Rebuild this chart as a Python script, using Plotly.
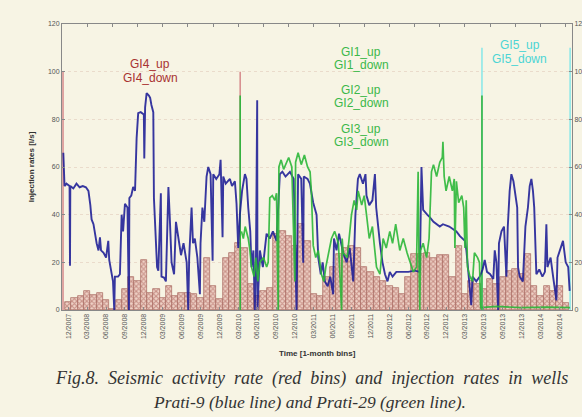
import plotly.graph_objects as go

# ---------------- data ----------------
# monthly bins, index 0 = 12/2007
seismic_rate = [3.4, 5, 6, 8, 6.5, 7, 4.2, 0.3, 4, 9, 14, 12, 21, 7, 9, 5, 10, 6, 7, 7,
                6.6, 5, 22, 10, 4.5, 22, 24, 28, 26, 11, 6, 8, 9.4, 32, 33, 31, 27, 36, 29, 6.6,
                6, 13.7, 18, 23.5, 26, 27, 26, 18, 16, 14, 12, 10, 9.4, 6.6, 13.7, 23.5, 23.5, 24, 22, 23,
                23, 13.7, 27, 6.6, 12, 11, 9, 13, 11, 14, 16.5, 17, 15, 23.5, 10, 6, 10, 8, 10, 3]
bin_month = list(range(len(seismic_rate)))

tick_month = list(range(0, 79, 3))
tick_labels = ["12/2007", "03/2008", "06/2008", "09/2008", "12/2008", "03/2009", "06/2009",
               "09/2009", "12/2009", "03/2010", "06/2010", "09/2010", "12/2010", "03/2011",
               "06/2011", "09/2011", "12/2011", "03/2012", "06/2012", "09/2012", "12/2012",
               "03/2013", "06/2013", "09/2013", "12/2013", "03/2014", "06/2014"]
top_tick_month = list(range(3, 80, 4))

# Prati-9 (blue)
blue_t = [-0.79, -0.6, -0.3, 0.2, 0.27, 0.32, 0.8, 1.3, 1.8, 2.3, 2.8, 3.2, 3.5, 3.7, 4.0, 4.24, 4.5,
          4.8, 5.03, 5.2, 5.6, 6.0, 6.35, 6.5, 6.9, 7.1, 7.3, 7.4, 7.9, 8.2, 8.47, 8.7, 9.0, 9.4,
          9.63, 9.7, 10.0, 10.3, 10.6, 10.85, 11.1, 11.5, 12.0, 12.07, 12.2, 12.44, 12.8, 13.0,
          13.2, 13.5, 13.6, 13.9, 14.1, 14.3, 14.7, 14.8, 15.2, 15.5, 15.9, 16.1, 16.4, 16.8,
          17.1, 17.5, 17.9, 18.3, 18.8, 19.05, 19.2, 19.58, 19.8, 20.1, 20.5, 20.9, 21.0, 21.3,
          21.6, 21.96, 22.23, 22.6, 22.92, 23.02, 23.5, 24.0, 24.19, 24.5, 24.61, 25.0, 25.67,
          26.0, 26.46, 26.72, 26.99, 27.25, 27.6, 28.05, 28.3, 28.58, 28.9, 29.1, 29.4, 29.63,
          29.8, 30.0, 30.05, 30.43, 30.9, 31.49, 32.0, 32.5, 33.07, 33.6, 34.0, 34.5, 35.2,
          35.8, 36.25, 36.5, 37.0, 37.31, 37.4, 38.0, 38.37, 38.9, 39.43, 39.7, 40.1, 40.4,
          40.75, 41.2, 41.6, 42.07, 42.2, 42.6, 43.0, 43.66, 44.2, 44.7, 45.25, 45.6, 46.0,
          46.3, 46.8, 47.2, 47.36, 47.8, 48.3, 48.7, 48.9, 49.5, 49.9, 50.3, 50.7, 51.06, 51.5,
          52.1, 53.0, 54.0, 55.0, 55.83, 56.09, 56.36, 57.0, 57.4, 58.0, 58.5, 59.0, 59.5, 60.5,
          61.64, 62.2, 63.0, 63.23, 63.6, 64.0, 64.2, 64.8, 65.35, 65.8, 66.14, 66.5, 67.0,
          67.5, 67.73, 68.0, 68.26, 68.4, 68.8, 69.2, 69.58, 69.8, 70.1, 70.37, 70.7, 71.0,
          71.3, 71.43, 71.7, 72.2, 72.6, 73.0, 73.28, 73.55, 73.8, 74.0, 74.34, 74.8, 75.3,
          75.7, 75.93, 76.1, 76.6, 77.0, 77.52, 77.7, 78.2, 78.57, 79.0, 79.4, 79.63]
blue_v = [66, 52, 53, 52, 18.6, 52, 51, 53, 51.5, 52, 51.5, 50, 44, 38, 36, 32, 28,
          25, 30.5, 25, 24, 22, 29, 21, 15, 12, 0, 14, 14, 15, 40, 33, 44.6, 43,
          0, 47, 48, 51.6, 50, 72, 82.6, 83, 82, 63.6, 85, 91, 90, 89,
          86, 83, 47, 30, 18, 16.5, 49, 14, 13.6, 12, 51.6, 40, 20, 15,
          37, 30, 23, 28, 20, 0, 22, 43, 28, 30, 22, 6.6, 28, 43,
          37, 56, 60, 57, 20.7, 57, 55, 57, 63, 30.5, 56, 53, 55,
          52, 54, 44.6, 26, 40, 50, 57, 55, 43, 33, 18, 25, 0,
          20, 88, 0, 25, 18, 32, 30, 33, 29, 57, 58, 56, 58,
          55, 0, 57, 55, 19.8, 56, 55, 53, 45, 40, 22, 15, 20,
          12, 10, 14, 6.6, 30, 25, 32, 24, 20, 26, 12, 40, 55,
          57, 53, 57, 48, 44, 46, 57, 43, 28, 20, 15, 12, 16, 14,
          16, 16, 16, 16.5, 16, 60, 42, 40, 39, 37, 36, 35, 36, 35,
          33, 31, 29, 25, 14, 2, 14, 12, 14, 17, 21, 16, 15,
          13, 25, 20, 0, 28, 33, 35, 14, 35, 50, 57, 54, 48,
          43, 18, 14, 12, 35, 43, 52, 55, 50, 43, 15, 17, 14,
          16, 36, 18, 22, 14, 4, 22, 26, 29, 20, 18, 8]

# Prati-29 (green)
green_t = [27.5, 27.8, 28.1, 28.58, 28.8, 29.1, 29.5, 29.8, 30.1, 30.43, 31.0, 31.5, 31.75, 32.0,
           32.4, 32.8, 33.07, 33.34, 33.45, 33.8, 34.2, 34.66, 35.0, 35.5, 35.98, 36.1, 36.5,
           37.0, 37.5, 38.0, 38.4, 38.6, 38.9, 39.3, 39.7, 40.2, 40.6, 40.9, 41.8, 42.3, 42.9,
           43.4, 43.5, 43.66, 44.3, 44.98, 45.4, 45.8, 46.04, 46.6, 47.0, 47.36, 47.8, 48.3,
           48.6, 48.95, 49.5, 50.0, 50.5, 51.06, 51.5, 52.0, 52.65, 53.2, 53.8, 54.24, 54.8,
           55.3, 55.56, 55.7, 55.83, 55.95, 56.36, 56.9, 57.3, 57.68, 58.0, 58.5, 59.0, 59.4,
           59.5, 59.7, 60.0, 60.5, 61.0, 61.3, 61.4, 61.64, 62.0, 62.5, 62.8, 63.0, 63.2, 63.4,
           63.8, 64.2, 64.5, 65.0, 65.3, 65.5, 68.0, 72.0, 76.0, 79.7]
green_v = [33, 30, 35, 30, 26, 18, 14, 22, 12, 20, 22, 18, 20, 47,
           48, 46, 49, 0, 60, 63, 59, 62, 64, 60, 12, 62, 66,
           61, 65, 60, 58, 50, 27, 22, 25, 15, 12, 18, 30, 33, 28,
           0, 30, 24, 22, 40, 46, 42, 50, 44, 48, 40, 30, 35,
           27, 18, 15, 30, 26, 33, 28, 36, 25, 30, 24, 20, 16,
           18, 58, 20, 0, 25, 28, 22, 30, 58, 61, 56, 62, 64,
           70.6, 56, 50, 56, 50, 55, 26, 54, 45, 48, 43, 26, 46, 18,
           14, 12, 24, 22, 20, 1, 1.5, 1, 1.2, 1]

# well-event marker lines (month position) and their heights
gi4_t = [-0.84, 27.3]
gi4_top = 100
gi123_t = [27.3, 65.7]
gi123_top = 90
gi5_t = [65.7, 79.7]
gi5_top = 110

def vlines(ts, top):
    xs, ys = [], []
    for t in ts:
        xs += [t, t, None]
        ys += [0, top, None]
    return xs, ys

BG = "#f7f4e4"
fig = go.Figure()

fig.add_trace(go.Bar(
    x=bin_month, y=seismic_rate, width=1.0,
    marker=dict(color="#ecc8bc", line=dict(color="#a86860", width=0.7),
                pattern=dict(shape="x", fgcolor="#a04c46", bgcolor="#f0d4c8", size=3.5, solidity=0.55)),
    showlegend=False))

for ts, top, col in [(gi5_t, gi5_top, "#8ee8e8"), (gi4_t, gi4_top, "#d89090"), (gi123_t, gi123_top, "#33b33f")]:
    xs, ys = vlines(ts, top)
    fig.add_trace(go.Scatter(x=xs, y=ys, mode="lines", line=dict(color=col, width=1.6),
                             showlegend=False, hoverinfo="skip"))

fig.add_trace(go.Scatter(x=blue_t, y=blue_v, mode="lines",
                         line=dict(color="#1c1c96", width=1.9), opacity=0.88, showlegend=False))
fig.add_trace(go.Scatter(x=green_t, y=green_v, mode="lines",
                         line=dict(color="#2db83a", width=1.7), opacity=0.9, showlegend=False))

# invisible traces for right and top axes
fig.add_trace(go.Scatter(x=[None], y=[None], yaxis="y2", showlegend=False))
fig.add_trace(go.Scatter(x=[None], y=[None], xaxis="x2", showlegend=False))

lab_font = dict(family="Liberation Sans, Arial, sans-serif", size=12)
labels = [
    ("GI4_up", 13.0, 103.4, "#a83232"), ("GI4_down", 13.0, 97.3, "#a83232"),
    ("GI1_up", 46.5, 108.3, "#3cb84a"), ("GI1_down", 46.5, 102.8, "#3cb84a"),
    ("GI2_up", 46.5, 92.2, "#3cb84a"), ("GI2_down", 46.5, 86.9, "#3cb84a"),
    ("GI3_up", 46.5, 76.1, "#3cb84a"), ("GI3_down", 46.5, 70.5, "#3cb84a"),
    ("GI5_up", 71.7, 111.4, "#4cd4d4"), ("GI5_down", 71.7, 105.4, "#4cd4d4"),
]
for txt, t, v, col in labels:
    fig.add_annotation(x=t, y=v, text=txt, showarrow=False, xanchor="center", yanchor="middle",
                       font=dict(lab_font, color=col))

NB = "\u00a0"
cap1_words = ["Fig.8.", "Seismic", "activity", "rate", "(red", "bins)", "and", "injection", "rates", "in", "wells"]
cap1 = (" " + NB).join(cap1_words)

fig.add_annotation(xref="paper", yref="paper", x=0.5, y=-0.175, text="<b>Time [1-month bins]</b>",
                   showarrow=False, font=dict(family="Liberation Sans, Arial", size=8, color="#333"))
fig.add_annotation(xref="paper", yref="paper", x=-0.018, y=-0.284, xanchor="left",
                   text="<i>" + cap1 + "</i>",
                   showarrow=False, font=dict(family="Liberation Serif, Times New Roman, serif", size=18, color="#333"))
fig.add_annotation(xref="paper", yref="paper", x=0.485, y=-0.362, xanchor="center",
                   text="<i>Prati-9 (blue line) and Prati-29 (green line).</i>",
                   showarrow=False, font=dict(family="Liberation Serif, Times New Roman, serif", size=17.5, color="#333"))

axis_font = dict(family="Liberation Sans, Arial", size=7, color="#555")
fig.update_layout(
    width=582, height=417,
    margin=dict(l=62, r=10, t=24, b=107),
    paper_bgcolor=BG, plot_bgcolor=BG,
    bargap=0,
    xaxis=dict(range=[-1, 80], tickmode="array", tickvals=tick_month, ticktext=tick_labels,
               tickangle=-90, tickfont=axis_font, showgrid=False, zeroline=False, automargin=False,
               showline=True, linecolor="#888", linewidth=1, ticks="inside",
               ticklen=3, tickcolor="#888"),
    xaxis2=dict(range=[-1, 80], overlaying="x", side="top", tickvals=top_tick_month, showticklabels=False,
                showgrid=False, zeroline=False, showline=True, linecolor="#888", linewidth=1,
                ticks="inside", ticklen=3, tickcolor="#888", automargin=False),
    yaxis=dict(range=[0, 120], tickvals=[0, 20, 40, 60, 80, 100, 120], tickfont=axis_font, automargin=False,
               title=dict(text="<b>Injection rates [l/s]</b>", font=dict(family="Liberation Sans, Arial", size=8, color="#333"), standoff=12),
               showgrid=True, gridcolor="#eadbcb", griddash="dot", gridwidth=1, zeroline=False,
               showline=True, linecolor="#888", linewidth=1, ticks="inside", ticklen=3, tickcolor="#888"),
    yaxis2=dict(range=[0, 120], overlaying="y", side="right", tickvals=[0, 20, 40, 60, 80, 100, 120],
                tickfont=axis_font, showgrid=False, zeroline=False, showline=True, linecolor="#888",
                ticks="inside", ticklen=3, tickcolor="#888", automargin=False),
)

fig.write_html("out.html")
